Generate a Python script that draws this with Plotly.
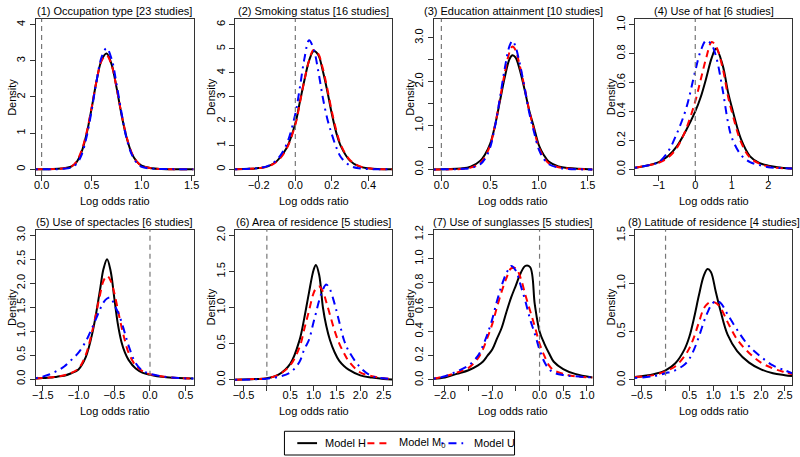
import plotly.graph_objects as go

# (1) Occupation type
occ_x = [-0.06, 0.2, 0.3, 0.35, 0.4, 0.45, 0.5, 0.55, 0.6, 0.65, 0.7, 0.75, 0.8, 0.85, 0.9, 0.95, 1.0, 1.1, 1.2, 1.52]
occ_h = [0, 0.02, 0.08, 0.2, 0.48, 0.98, 1.68, 2.45, 3.02, 3.2, 2.9, 2.25, 1.5, 0.88, 0.45, 0.22, 0.1, 0.03, 0.01, 0]
occ_m0 = [0, 0.02, 0.08, 0.22, 0.52, 1.02, 1.7, 2.45, 3.0, 3.15, 2.88, 2.25, 1.52, 0.9, 0.46, 0.22, 0.1, 0.03, 0.01, 0]
occ_u = [0, 0.01, 0.05, 0.15, 0.4, 0.9, 1.62, 2.45, 3.1, 3.35, 3.05, 2.35, 1.55, 0.85, 0.42, 0.18, 0.07, 0.02, 0.01, 0]

# (2) Smoking status
smk_x = [-0.33, -0.25, -0.2, -0.15, -0.1, -0.05, 0.0, 0.025, 0.05, 0.075, 0.1, 0.125, 0.15, 0.175, 0.2, 0.225, 0.25, 0.3, 0.35, 0.4, 0.45, 0.53]
smk_h = [0, 0.02, 0.05, 0.12, 0.35, 0.85, 1.9, 2.8, 3.7, 4.5, 4.9, 4.75, 4.1, 3.25, 2.3, 1.5, 0.95, 0.35, 0.12, 0.04, 0.01, 0]
smk_m0 = [0, 0.02, 0.05, 0.12, 0.33, 0.82, 1.85, 2.75, 3.7, 4.5, 4.95, 4.8, 4.2, 3.35, 2.4, 1.6, 1.0, 0.38, 0.13, 0.04, 0.01, 0]
smk_u = [0, 0.02, 0.05, 0.14, 0.4, 1.0, 2.3, 3.4, 4.6, 5.35, 5.0, 4.1, 3.0, 2.1, 1.45, 0.9, 0.5, 0.15, 0.04, 0.01, 0, 0]

# (3) Education attainment
edu_x = [-0.08, 0.2, 0.3, 0.4, 0.45, 0.5, 0.55, 0.6, 0.65, 0.7, 0.73, 0.76, 0.8, 0.85, 0.9, 0.95, 1.0, 1.05, 1.1, 1.2, 1.3, 1.55]
edu_h = [0, 0.02, 0.06, 0.2, 0.35, 0.58, 1.0, 1.55, 2.1, 2.52, 2.6, 2.55, 2.3, 1.85, 1.35, 0.95, 0.55, 0.33, 0.18, 0.07, 0.03, 0]
edu_m0 = [0, 0.01, 0.04, 0.15, 0.3, 0.55, 1.0, 1.6, 2.2, 2.68, 2.8, 2.72, 2.4, 1.9, 1.35, 0.9, 0.5, 0.28, 0.14, 0.05, 0.02, 0]
edu_u = [0, 0.01, 0.03, 0.12, 0.25, 0.5, 0.98, 1.62, 2.3, 2.82, 2.93, 2.8, 2.45, 1.9, 1.3, 0.85, 0.45, 0.24, 0.12, 0.04, 0.01, 0]

# (4) Use of hat
hat_x = [-1.65, -1.25, -1.0, -0.75, -0.5, -0.25, 0.0, 0.15, 0.3, 0.45, 0.57, 0.75, 0.9, 1.0, 1.25, 1.5, 1.75, 2.0, 2.25, 2.65]
hat_h = [0.01, 0.03, 0.05, 0.09, 0.16, 0.27, 0.4, 0.5, 0.63, 0.77, 0.835, 0.72, 0.53, 0.43, 0.21, 0.09, 0.045, 0.025, 0.015, 0.005]
hat_m0 = [0.01, 0.03, 0.045, 0.08, 0.15, 0.28, 0.47, 0.62, 0.77, 0.88, 0.85, 0.7, 0.5, 0.4, 0.19, 0.08, 0.04, 0.02, 0.01, 0.005]
hat_u = [0.01, 0.03, 0.05, 0.12, 0.25, 0.42, 0.68, 0.82, 0.89, 0.86, 0.78, 0.55, 0.32, 0.22, 0.1, 0.05, 0.03, 0.015, 0.01, 0.005]

# (5) Use of spectacles
spc_x = [-1.6, -1.5, -1.4, -1.3, -1.2, -1.1, -1.0, -0.9, -0.8, -0.7, -0.65, -0.6, -0.55, -0.5, -0.45, -0.4, -0.35, -0.3, -0.2, -0.1, 0.0, 0.2, 0.4, 0.61]
spc_h = [0.01, 0.02, 0.03, 0.05, 0.07, 0.12, 0.2, 0.45, 1.0, 1.85, 2.3, 2.5, 2.25, 1.7, 1.15, 0.78, 0.55, 0.4, 0.22, 0.13, 0.09, 0.04, 0.02, 0.01]
spc_m0 = [0.01, 0.02, 0.03, 0.05, 0.08, 0.13, 0.22, 0.5, 1.05, 1.75, 2.05, 2.15, 2.05, 1.8, 1.45, 1.1, 0.8, 0.55, 0.28, 0.16, 0.1, 0.05, 0.02, 0.01]
spc_u = [0.02, 0.05, 0.1, 0.17, 0.26, 0.4, 0.55, 0.78, 1.1, 1.45, 1.6, 1.68, 1.7, 1.55, 1.4, 1.2, 0.95, 0.7, 0.33, 0.17, 0.11, 0.05, 0.02, 0.01]

# (6) Area of residence
area_x = [-0.68, -0.25, 0.0, 0.25, 0.5, 0.7, 0.8, 0.9, 1.0, 1.05, 1.12, 1.2, 1.27, 1.35, 1.45, 1.55, 1.65, 1.75, 2.0, 2.25, 2.5, 2.68]
area_h = [0, 0.01, 0.02, 0.07, 0.22, 0.55, 0.85, 1.2, 1.52, 1.59, 1.45, 1.0, 0.75, 0.55, 0.38, 0.26, 0.19, 0.14, 0.06, 0.03, 0.01, 0.005]
area_m0 = [0, 0.01, 0.02, 0.07, 0.2, 0.45, 0.7, 0.95, 1.2, 1.26, 1.29, 1.22, 1.08, 0.9, 0.68, 0.5, 0.37, 0.26, 0.1, 0.05, 0.02, 0.01]
area_u = [0, 0.005, 0.015, 0.04, 0.1, 0.25, 0.42, 0.55, 0.8, 0.92, 1.1, 1.25, 1.32, 1.25, 1.05, 0.8, 0.55, 0.4, 0.17, 0.05, 0.02, 0.01]

# (7) Use of sunglasses
sun_x = [-2.24, -2.0, -1.75, -1.5, -1.3, -1.2, -1.1, -1.0, -0.9, -0.8, -0.7, -0.6, -0.5, -0.4, -0.3, -0.2, -0.1, 0.0, 0.1, 0.2, 0.3, 0.5, 0.75, 1.12]
sun_h = [0.01, 0.02, 0.05, 0.08, 0.12, 0.15, 0.2, 0.25, 0.34, 0.43, 0.56, 0.68, 0.78, 0.88, 0.94, 0.93, 0.62, 0.4, 0.3, 0.22, 0.15, 0.09, 0.05, 0.02]
sun_m0 = [0.01, 0.03, 0.06, 0.1, 0.18, 0.25, 0.35, 0.46, 0.6, 0.73, 0.84, 0.92, 0.92, 0.84, 0.7, 0.57, 0.44, 0.3, 0.2, 0.12, 0.08, 0.05, 0.03, 0.02]
sun_u = [0.01, 0.03, 0.07, 0.12, 0.2, 0.28, 0.38, 0.5, 0.65, 0.78, 0.88, 0.94, 0.9, 0.78, 0.65, 0.5, 0.38, 0.25, 0.15, 0.09, 0.06, 0.04, 0.03, 0.02]

# (8) Latitude of residence
lat_x = [-0.64, -0.25, 0.0, 0.2, 0.4, 0.5, 0.6, 0.7, 0.8, 0.88, 0.95, 1.05, 1.15, 1.3, 1.5, 1.75, 2.0, 2.25, 2.5, 2.65]
lat_h = [0.03, 0.06, 0.1, 0.17, 0.32, 0.45, 0.65, 0.88, 1.08, 1.15, 1.12, 0.92, 0.72, 0.47, 0.3, 0.18, 0.11, 0.07, 0.05, 0.04]
lat_m0 = [0.03, 0.05, 0.09, 0.14, 0.25, 0.33, 0.45, 0.6, 0.74, 0.79, 0.81, 0.8, 0.75, 0.6, 0.42, 0.28, 0.18, 0.12, 0.08, 0.06]
lat_u = [0.02, 0.04, 0.07, 0.1, 0.16, 0.22, 0.32, 0.45, 0.6, 0.7, 0.77, 0.82, 0.8, 0.68, 0.52, 0.35, 0.24, 0.15, 0.1, 0.07]

titles = [
    "(1) Occupation type [23 studies]",
    "(2) Smoking status [16 studies]",
    "(3) Education attainment [10 studies]",
    "(4) Use of hat [6 studies]",
    "(5) Use of spectacles [6 studies]",
    "(6) Area of residence [5 studies]",
    "(7) Use of sunglasses [5 studies]",
    "(8) Latitude of residence [4 studies]",
]

# labelled ticks per panel, plus unlabelled (minor) ticks
x_ticks = [
    ([0, 0.5, 1, 1.5], ["0.0", "0.5", "1.0", "1.5"]),
    ([-0.2, 0, 0.2, 0.4], ["−0.2", "0.0", "0.2", "0.4"]),
    ([0, 0.5, 1, 1.5], ["0.0", "0.5", "1.0", "1.5"]),
    ([-1, 0, 1, 2], ["−1", "0", "1", "2"]),
    ([-1.5, -1, -0.5, 0, 0.5], ["−1.5", "−1.0", "−0.5", "0.0", "0.5"]),
    ([-0.5, 0.5, 1, 1.5, 2, 2.5], ["−0.5", "0.5", "1.0", "1.5", "2.0", "2.5"]),
    ([-2, -1, 0, 0.5, 1], ["−2.0", "−1.0", "0.0", "0.5", "1.0"]),
    ([-0.5, 0.5, 1, 1.5, 2, 2.5], ["−0.5", "0.5", "1.0", "1.5", "2.0", "2.5"]),
]
x_minor = [[], [], [], [], [], [0], [-1.5, -0.5], [0]]
y_ticks = [
    ([0, 1, 2, 3, 4], ["0", "1", "2", "3", "4"]),
    ([0, 1, 2, 3, 4, 5, 6], ["0", "1", "2", "3", "4", "5", "6"]),
    ([0, 1, 2, 3], ["0.0", "1.0", "2.0", "3.0"]),
    ([0, 0.2, 0.4, 0.6, 0.8, 1.0], ["0.0", "0.2", "0.4", "0.6", "0.8", "1.0"]),
    ([0, 0.5, 1, 1.5, 2, 2.5, 3], ["0.0", "0.5", "1.0", "1.5", "2.0", "2.5", "3.0"]),
    ([0, 0.5, 1, 1.5, 2], ["0.0", "0.5", "1.0", "1.5", "2.0"]),
    ([0, 0.2, 0.4, 0.6, 0.8, 1.0, 1.2], ["0.0", "0.2", "0.4", "0.6", "0.8", "1.0", "1.2"]),
    ([0, 0.5, 1, 1.5], ["0.0", "0.5", "1.0", "1.5"]),
]
y_minor = [[], [], [0.5, 1.5, 2.5], [], [], [], [], []]

curves = [
    (occ_x, occ_h, occ_m0, occ_u),
    (smk_x, smk_h, smk_m0, smk_u),
    (edu_x, edu_h, edu_m0, edu_u),
    (hat_x, hat_h, hat_m0, hat_u),
    (spc_x, spc_h, spc_m0, spc_u),
    (area_x, area_h, area_m0, area_u),
    (sun_x, sun_h, sun_m0, sun_u),
    (lat_x, lat_h, lat_m0, lat_u),
]

x_ranges = [[-0.06, 1.52], [-0.33, 0.53], [-0.08, 1.55], [-1.65, 2.65],
            [-1.6, 0.61], [-0.68, 2.68], [-2.24, 1.12], [-0.64, 2.65]]
y_ranges = [[-0.16, 4.16], [-0.24, 6.24], [-0.13, 3.43], [-0.04, 1.04],
            [-0.12, 3.12], [-0.07, 2.08], [-0.04, 1.24], [-0.05, 1.56]]

W, H = 800, 457
col_px = [(32, 192), (234, 393), (435, 596), (639, 798)]
row_px = [(15, 173), (228, 385)]

FONT = "Liberation Sans, Arial, sans-serif"
models = ["Model H", "Model M<sub>0</sub>", "Model U"]
colors = ["black", "red", "blue"]
dashes = ["solid", "7px,5px", "2px,5px,8px,5px"]

fig = go.Figure()
annotations = []
shapes = []

for i in range(8):
    r, c = divmod(i, 4)
    n = "" if i == 0 else str(i + 1)
    xa, ya = "x" + n, "y" + n
    xs = curves[i][0]
    for name, color, dash, ys in zip(models, colors, dashes, curves[i][1:]):
        fig.add_trace(go.Scatter(
            x=xs, y=ys, mode="lines", name=name,
            line=dict(color=color, width=2, dash=dash, shape="spline", smoothing=1),
            xaxis=xa, yaxis=ya, showlegend=False, hoverinfo="skip",
        ))

    x0, x1 = col_px[c]
    top, bot = row_px[r]
    common = dict(showline=True, mirror=True, linecolor="#333", linewidth=1,
                  ticks="outside", ticklen=5, tickcolor="#333",
                  showgrid=False, zeroline=False, tickfont=dict(size=11, color="black"))
    fig.layout["xaxis" + n] = dict(
        domain=[x0 / W, x1 / W], range=x_ranges[i], anchor=ya,
        tickvals=x_ticks[i][0], ticktext=x_ticks[i][1], ticklabelstandoff=-5,
        minor=dict(tickvals=x_minor[i], ticks="outside", ticklen=5, tickcolor="#333"),
        **common)
    fig.layout["yaxis" + n] = dict(
        domain=[1 - bot / H, 1 - top / H], range=y_ranges[i], anchor=xa,
        tickvals=y_ticks[i][0], ticktext=y_ticks[i][1], tickangle=-90,
        minor=dict(tickvals=y_minor[i], ticks="outside", ticklen=5, tickcolor="#333"),
        **common)

    # dashed reference line at log odds ratio 0
    shapes.append(dict(type="line", xref=xa, yref=ya + " domain", x0=0, x1=0, y0=0, y1=1,
                       line=dict(color="#777", width=1.2, dash="5px,4px")))

    cx = (x0 + x1) / 2 / W
    annotations.append(dict(text=titles[i], x=cx, y=1 - (top - 8) / H, xref="paper", yref="paper",
                            showarrow=False, xanchor="center", yanchor="middle",
                            font=dict(size=11, color="black")))
    annotations.append(dict(text="Log odds ratio", x=cx, y=1 - (bot + 26) / H, xref="paper", yref="paper",
                            showarrow=False, xanchor="center", yanchor="middle",
                            font=dict(size=11, color="black")))
    annotations.append(dict(text="Density", x=(x0 - 24) / W, y=1 - (top + bot) / 2 / H,
                            xref="paper", yref="paper", textangle=-90,
                            showarrow=False, xanchor="center", yanchor="middle",
                            font=dict(size=11, color="black")))

# legend box drawn by hand (short R-style sample lines)
leg_y = 1 - 444 / H
shapes.append(dict(type="rect", xref="paper", yref="paper", x0=284 / W, x1=517 / W,
                   y0=1 - 456 / H, y1=1 - 432 / H, line=dict(color="black", width=1)))
for name, color, dash, (lx0, lx1, tx) in zip(models, colors, dashes,
                                             [(297, 317, 323), (368, 390, 398), (443, 465, 474)]):
    shapes.append(dict(type="line", xref="paper", yref="paper", x0=lx0 / W, x1=lx1 / W,
                       y0=leg_y, y1=leg_y, line=dict(color=color, width=2, dash=dash)))
    annotations.append(dict(text=name, x=tx / W, y=leg_y, xref="paper", yref="paper",
                            showarrow=False, xanchor="left", yanchor="middle",
                            font=dict(size=11, color="black")))

fig.update_layout(
    width=W, height=H,
    margin=dict(l=0, r=0, t=0, b=0),
    paper_bgcolor="white", plot_bgcolor="white",
    font=dict(family=FONT, size=11, color="black"),
    annotations=annotations, shapes=shapes,
    showlegend=False,
)

fig.write_html("out.html", config={"displayModeBar": False},
               post_script="document.body.style.margin='0';")
